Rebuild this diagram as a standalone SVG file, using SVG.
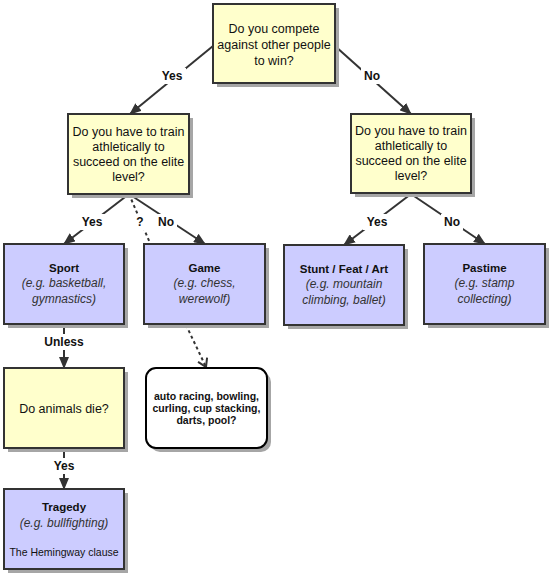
<svg xmlns="http://www.w3.org/2000/svg" width="551" height="576" viewBox="0 0 551 576">
<defs>
<style>
.sh{fill:#a6a6a6}
.q{fill:#ffffcc;stroke:#333;stroke-width:2}
.a{fill:#ccccff;stroke:#333;stroke-width:2}
.n{fill:#fff;stroke:#000;stroke-width:2}
text{font-family:"Liberation Sans",Arial,sans-serif;font-size:12px;text-anchor:middle;fill:#111}
.t{font-size:12.5px}
.b{font-weight:bold}
.h{font-weight:bold;font-size:11.5px}
.i{font-style:italic;fill:#333}
.s{font-size:10.5px}
.e{stroke:#333;stroke-width:2;fill:none}
.d{stroke:#333;stroke-width:2;fill:none;stroke-dasharray:3,3}
.lb{fill:#fff}
</style>
<marker id="ar" markerWidth="12" markerHeight="10" refX="11" refY="5" orient="auto" markerUnits="userSpaceOnUse">
<path d="M0,0 L12,5 L0,10 Z" fill="#333"/>
</marker>
<marker id="op" markerWidth="12" markerHeight="12" refX="10" refY="6" orient="auto" markerUnits="userSpaceOnUse">
<path d="M2,1 L10,6 L2,11" fill="none" stroke="#333" stroke-width="2"/>
</marker>
</defs>
<g id="connectors">
<line class="e" x1="213" y1="46" x2="130" y2="114" marker-end="url(#ar)"/>
<line class="e" x1="335" y1="46" x2="411" y2="114" marker-end="url(#ar)"/>
<line class="e" x1="129" y1="194" x2="64" y2="244" marker-end="url(#ar)"/>
<line class="e" x1="129" y1="194" x2="205" y2="244" marker-end="url(#ar)"/>
<line class="d" x1="129" y1="194" x2="150" y2="243"/>
<line class="e" x1="411" y1="194" x2="344" y2="245" marker-end="url(#ar)"/>
<line class="e" x1="411" y1="194" x2="485" y2="244" marker-end="url(#ar)"/>
<line class="e" x1="64" y1="324" x2="64" y2="368" marker-end="url(#ar)"/>
<line class="e" x1="64" y1="448" x2="64" y2="489" marker-end="url(#ar)"/>
<line class="d" x1="186" y1="325" x2="206" y2="367" marker-end="url(#op)"/>
<rect class="lb" x="158" y="68" width="28" height="16"/><text class="b" x="172" y="80">Yes</text>
<rect class="lb" x="361" y="68" width="22" height="16"/><text class="b" x="372" y="80">No</text>
<rect class="lb" x="78" y="214" width="28" height="16"/><text class="b" x="92" y="226">Yes</text>
<rect class="lb" x="155" y="214" width="22" height="16"/><text class="b" x="166" y="226">No</text>
<rect class="lb" x="135" y="214" width="11" height="16"/><text class="b" x="140" y="226">?</text>
<rect class="lb" x="363" y="214" width="28" height="16"/><text class="b" x="377" y="226">Yes</text>
<rect class="lb" x="441" y="214" width="22" height="16"/><text class="b" x="452" y="226">No</text>
<rect class="lb" x="42" y="334" width="44" height="16"/><text class="b" x="64" y="346">Unless</text>
<rect class="lb" x="50" y="458" width="28" height="16"/><text class="b" x="64" y="470">Yes</text>
</g>
<g id="q1">
<rect class="sh" x="217" y="8" width="122" height="79"/>
<rect class="q" x="213" y="4" width="122" height="79"/>
<text class="t" x="274" y="33">Do you compete</text>
<text class="t" x="274" y="49">against other people</text>
<text class="t" x="274" y="65">to win?</text>
</g>
<g id="q2">
<rect class="sh" x="72" y="118" width="121" height="80"/>
<rect class="q" x="68" y="114" width="121" height="80"/>
<text class="t" x="128.5" y="136">Do you have to train</text>
<text class="t" x="128.5" y="151">athletically to</text>
<text class="t" x="128.5" y="166">succeed on the elite</text>
<text class="t" x="128.5" y="181">level?</text>
</g>
<g id="q3">
<rect class="sh" x="355" y="118" width="120" height="79"/>
<rect class="q" x="351" y="114" width="120" height="79"/>
<text class="t" x="411" y="135">Do you have to train</text>
<text class="t" x="411" y="150">athletically to</text>
<text class="t" x="411" y="165">succeed on the elite</text>
<text class="t" x="411" y="180">level?</text>
</g>
<g id="sport">
<rect class="sh" x="8" y="248" width="120" height="80"/>
<rect class="a" x="4" y="244" width="120" height="80"/>
<text class="h" x="64" y="272">Sport</text>
<text class="i" x="64" y="287">(e.g. basketball,</text>
<text class="i" x="64" y="303">gymnastics)</text>
</g>
<g id="game">
<rect class="sh" x="148" y="248" width="121" height="80"/>
<rect class="a" x="144" y="244" width="121" height="80"/>
<text class="h" x="204.5" y="272">Game</text>
<text class="i" x="204.5" y="287">(e.g. chess,</text>
<text class="i" x="204.5" y="303">werewolf)</text>
</g>
<g id="stunt">
<rect class="sh" x="288" y="249" width="120" height="80"/>
<rect class="a" x="284" y="245" width="120" height="80"/>
<text class="h" x="344" y="273">Stunt / Feat / Art</text>
<text class="i" x="344" y="288">(e.g. mountain</text>
<text class="i" x="344" y="304">climbing, ballet)</text>
</g>
<g id="pastime">
<rect class="sh" x="428" y="248" width="121" height="80"/>
<rect class="a" x="424" y="244" width="121" height="80"/>
<text class="h" x="484.5" y="272">Pastime</text>
<text class="i" x="484.5" y="287">(e.g. stamp</text>
<text class="i" x="484.5" y="303">collecting)</text>
</g>
<g id="animals">
<rect class="sh" x="8" y="372" width="120" height="80"/>
<rect class="q" x="4" y="368" width="120" height="80"/>
<text class="t" x="64" y="413">Do animals die?</text>
</g>
<g id="examples">
<rect class="sh" x="150" y="372" width="121" height="80" rx="10"/>
<rect class="n" x="146" y="368" width="121" height="80" rx="10"/>
<text class="b s" x="206.5" y="400">auto racing, bowling,</text>
<text class="b s" x="206.5" y="412">curling, cup stacking,</text>
<text class="b s" x="206.5" y="424">darts, pool?</text>
</g>
<g id="tragedy">
<rect class="sh" x="8" y="493" width="120" height="80"/>
<rect class="a" x="4" y="489" width="120" height="80"/>
<text class="h" x="64" y="511">Tragedy</text>
<text class="i" x="64" y="527">(e.g. bullfighting)</text>
<text class="s" x="64" y="556">The Hemingway clause</text>
</g>
</svg>
